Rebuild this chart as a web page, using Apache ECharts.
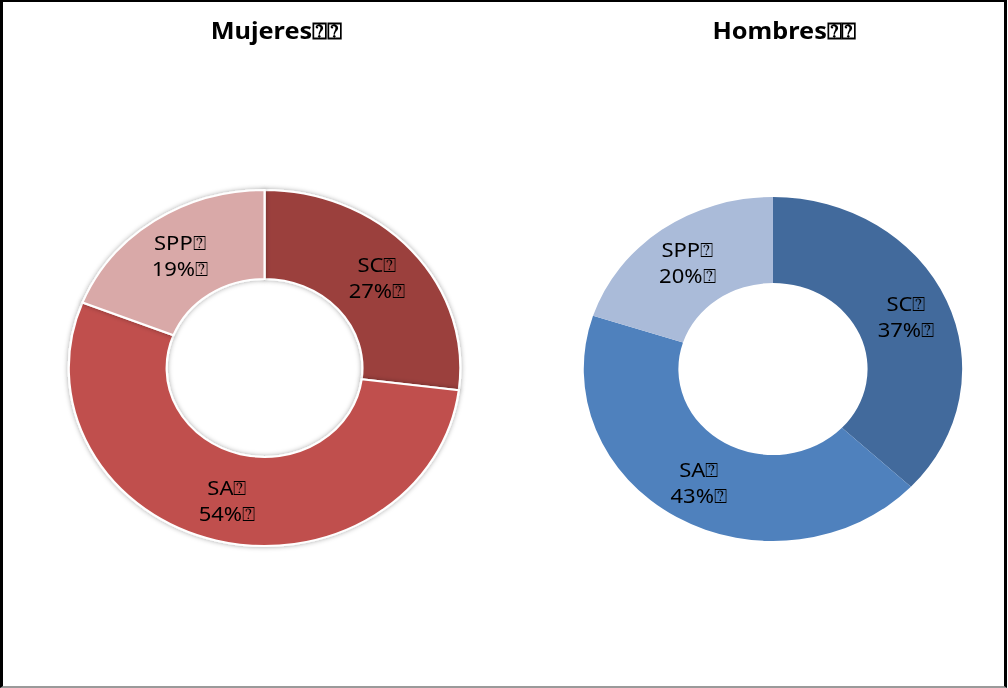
<!DOCTYPE html>
<html>
<head>
<meta charset="utf-8">
<script src="https://cdn.jsdelivr.net/npm/echarts@6/dist/echarts.min.js"></script>
<style>
  html, body { margin: 0; padding: 0; background: #fff; width: 1008px; height: 688px; overflow: hidden; }
  #frame { position: absolute; left: 0; top: 0; width: 1007px; height: 688px; box-sizing: border-box;
           border-left: 3px solid #000; border-top: 2px solid #000; border-right: 3px solid #000; border-bottom: 2px solid #9a9a9a; }
  #chart { position: absolute; left: 0; top: 0; width: 916px; height: 688px; transform: scaleX(1.1); transform-origin: 0 0; }
</style>
</head>
<body>
<div id="chart"></div>
<div id="frame"></div>
<script>
const categories = ['SC\u2370', 'SA\u2370', 'SPP\u2370'];
const mujeresValues = [27, 54, 19];
const hombresValues = [37, 43, 20];
const titles = ['Mujeres\u2370\u2370', 'Hombres\u2370\u2370'];
const mujeresColors = ['#9B403E', '#C0504D', '#D9A9A8'];
const hombresColors = ['#426A9C', '#4F81BD', '#AABBD9'];

const FONT = '"Noto Sans", "Open Sans", sans-serif';

function toData(values, colors) {
  return categories.map((c, i) => ({ name: c, value: values[i], itemStyle: { color: colors[i] } }));
}

const labelCfg = {
  show: true,
  position: 'inside',
  formatter: '{b}\n{c}%\u2370',
  color: '#000',
  fontFamily: FONT,
  fontSize: 20,
  lineHeight: 26
};

const chart = echarts.init(document.getElementById('chart'), null, { renderer: 'svg' });
chart.setOption({
  backgroundColor: 'transparent',
  animation: false,
  title: [
    { text: titles[0], left: 246, top: 13, textAlign: 'center',
      textStyle: { fontFamily: FONT, fontSize: 23, fontWeight: 'bold', color: '#000' } },
    { text: titles[1], left: 708, top: 13, textAlign: 'center',
      textStyle: { fontFamily: FONT, fontSize: 23, fontWeight: 'bold', color: '#000' } }
  ],
  series: [
    {
      type: 'pie',
      center: [240.5, 368],
      radius: [89, 178],
      startAngle: 90,
      clockwise: true,
      avoidLabelOverlap: false,
      label: labelCfg,
      labelLine: { show: false },
      emphasis: { disabled: true },
      itemStyle: { borderColor: '#fff', borderWidth: 2, shadowBlur: 5, shadowColor: 'rgba(0,0,0,0.35)' },
      data: toData(mujeresValues, mujeresColors)
    },
    {
      type: 'pie',
      center: [702.7, 369],
      radius: [86, 172],
      startAngle: 90,
      clockwise: true,
      avoidLabelOverlap: false,
      label: labelCfg,
      labelLine: { show: false },
      emphasis: { disabled: true },
      itemStyle: { borderWidth: 0 },
      data: toData(hombresValues, hombresColors)
    }
  ]
});
</script>
</body>
</html>
